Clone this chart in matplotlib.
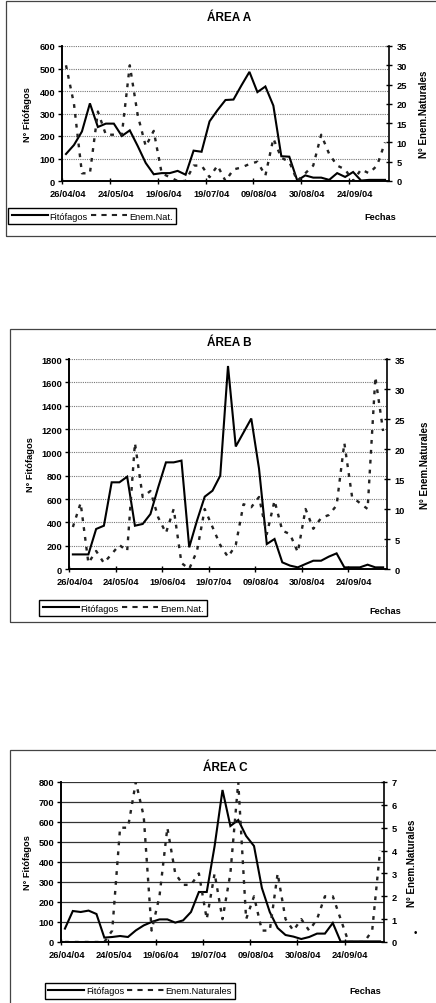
import numpy as np
import matplotlib.pyplot as plt
from matplotlib.patches import Rectangle
from matplotlib.lines import Line2D

plt.rcParams['font.family'] = ['Liberation Sans', 'DejaVu Sans']

W, H = 436, 1004

fechas = ['26/04/04', '24/05/04', '19/06/04', '19/07/04', '09/08/04', '30/08/04', '24/09/04']

# Área A
fito_a = [120, 160, 220, 345, 240, 255, 255, 200, 225, 155, 80, 30, 35, 35, 45, 28, 135, 130,
          265, 315, 360, 362, 425, 485, 395, 420, 335, 110, 108, 2, 25, 15, 15, 5, 35, 18, 40,
          2, 5, 5, 5]
enem_a = [30, 20, 2, 2, 18, 12, 12, 12, 30, 17, 9, 13, 2, 1, 0, 0, 4, 4, 1, 4, 0, 3, 3.5, 4.4,
          5, 1.4, 11, 6, 5, 0, 2, 4, 12, 7, 4, 3, 0, 3, 2, 4, 10]

# Área B
fito_b = [125, 125, 125, 343, 371, 743, 743, 791, 371, 386, 471, 700, 914, 914, 929, 186, 414,
          620, 671, 800, 1740, 1050, 1170, 1290, 860, 214, 257, 57, 29, 14, 43, 71, 71, 106,
          134, 14, 14, 14, 37, 14, 14]
enem_b = [7, 11, 1, 3, 1, 2.5, 4, 3, 21, 12, 13, 8.6, 6, 10, 1, 0, 3, 10, 7, 4, 2, 4, 10.8,
          10.3, 12, 5.8, 11.4, 6.4, 5.8, 2.8, 10, 6.7, 8.5, 9, 10.6, 21, 12, 11, 10, 32, 23]

# Área C
fito_c = [67, 155, 150, 157, 140, 22, 25, 30, 25, 58, 83, 100, 113, 113, 97, 108, 150, 250,
          250, 480, 760, 580, 610, 530, 480, 270, 150, 70, 35, 27, 15, 25, 42, 42, 95, 2, 3,
          3, 3, 3, 3]
enem_c = [0, 0, 0, 0, 0, 0, 0.5, 5, 5, 7, 5.5, 0.5, 2, 5, 3, 2.5, 2.5, 3, 1, 3, 1, 3, 7, 1,
          2, 0.5, 0.5, 3, 1, 0.5, 1, 0.5, 1, 2, 2, 1, 0, 0, 0, 0.5, 4]


def fx(px):
    return px / W


def fy(py):
    return 1 - py / H


def panel(fig, box, title, title_xy, fito, enem, ymax, ystep, rmax, rstep, grid_kw,
          frame, leg_xy, leg_lab, fechas_xy, ylab_x, rlab_x):
    l, t, r, b = box
    ax = fig.add_axes([fx(l), fy(b), fx(r) - fx(l), fy(t) - fy(b)])
    ax2 = ax.twinx()
    n = len(fito)
    x = np.arange(n) + 0.5

    ax.plot(x, fito, color='black', lw=1.5, solid_joinstyle='miter')
    ax2.plot(x, enem, color='#222222', lw=1.7, linestyle=(0, (1.6, 2.6)))

    ax.set_xlim(0, n)
    ax.set_ylim(0, ymax)
    ax2.set_ylim(0, rmax)
    ax.set_yticks(np.arange(0, ymax + 1, ystep))
    ax2.set_yticks(np.arange(0, rmax + 0.01, rstep))
    ax.yaxis.grid(True, **grid_kw)
    ax.set_axisbelow(True)

    # etiquetas de fecha cada 6 muestreos
    ax.set_xticks([6 * j + 0.7 for j in range(len(fechas))])
    ax.set_xticklabels(fechas)
    ax.set_xticks([6 * j for j in range(len(fechas))], minor=True)
    ax.tick_params(axis='x', which='major', length=0, pad=6, labelsize=6.7)
    ax.tick_params(axis='x', which='minor', length=4, direction='inout', width=1)
    ax.tick_params(axis='y', length=3, direction='out', width=1, pad=2, labelsize=6.7)
    ax2.tick_params(axis='y', length=5, direction='inout', width=1, pad=3, labelsize=6.7)
    for lab in ax.get_xticklabels() + ax.get_yticklabels() + ax2.get_yticklabels():
        lab.set_fontweight('bold')

    for a in (ax, ax2):
        a.spines['top'].set_visible(False)
        for s in ('left', 'right', 'bottom'):
            a.spines[s].set_linewidth(1.2)
    ax.spines['right'].set_visible(False)

    fig.text(fx(title_xy[0]), fy(title_xy[1]), title, ha='center', va='center',
             fontsize=8.5, fontweight='bold')
    fig.text(fx(ylab_x), fy((t + b) / 2), 'N° Fitófagos', rotation=90, ha='center',
             va='center', fontsize=6.7, fontweight='bold')
    fig.text(fx(rlab_x), fy((t + b) / 2), 'N° Enem.Naturales', rotation=90, ha='center',
             va='center', fontsize=7, fontweight='bold')
    fig.text(fx(fechas_xy[0]), fy(fechas_xy[1]), 'Fechas', ha='center', va='center',
             fontsize=6.7, fontweight='bold')

    fl, ft, fr, fb = frame
    fig.add_artist(Rectangle((fx(fl), fy(fb)), fx(fr) - fx(fl), fy(ft) - fy(fb),
                             transform=fig.transFigure, fill=False, edgecolor='#444444',
                             lw=0.9))

    h1 = Line2D([], [], color='black', lw=1.5)
    h2 = Line2D([], [], color='#222222', lw=1.5, linestyle=(0, (2.5, 2.5)))
    fig.legend([h1, h2], ['Fitófagos', leg_lab], loc='center',
               bbox_to_anchor=(fx(leg_xy[0]), fy(leg_xy[1])), ncol=2, frameon=True,
               fancybox=False, edgecolor='black', framealpha=1, fontsize=6.7,
               handlelength=3.9, handletextpad=0.2, columnspacing=0.3, borderpad=0.35,
               borderaxespad=0)
    return ax


fig = plt.figure(figsize=(W / 100, H / 100), dpi=100)

panel(fig, (62, 47, 389, 182), 'ÁREA A', (229, 18), fito_a, enem_a, 600, 100, 35, 5,
      dict(color='#777777', lw=0.8, linestyle=(0, (1, 1))),
      (6, 2, 440, 237), (92, 217), 'Enem.Nat.', (380, 217), 28, 424)

panel(fig, (69, 360, 387, 570), 'ÁREA B', (229, 343), fito_b, enem_b, 1800, 200, 35, 5,
      dict(color='#777777', lw=0.8, linestyle=(0, (1, 1))),
      (10, 330, 440, 623), (123, 609), 'Enem.Nat.', (385, 611), 30, 425)

panel(fig, (61, 783, 384, 943), 'ÁREA C', (225, 768), fito_c, enem_c, 800, 100, 7, 1,
      dict(color='#333333', lw=0.9),
      (10, 751, 440, 1010), (140, 992), 'Enem.Naturales', (365, 992), 28, 412)

fig.text(fx(415), fy(933), '•', ha='center', va='center', fontsize=7)

fig.savefig('out.png', dpi=100)
